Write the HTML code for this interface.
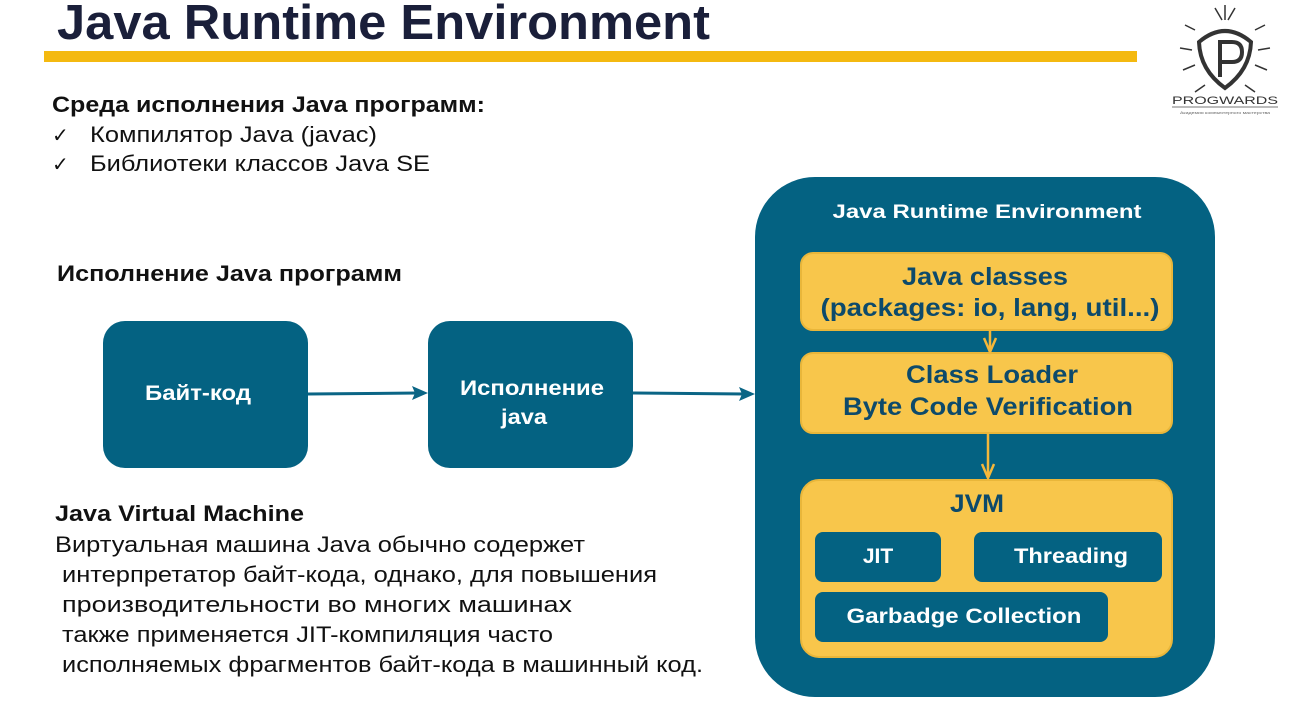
<!DOCTYPE html>
<html><head><meta charset="utf-8"><style>
html,body{margin:0;padding:0;background:#fff;}
svg{display:block;}
text{font-family:"Liberation Sans","DejaVu Sans",sans-serif;}
</style></head><body>
<svg width="1300" height="715" viewBox="0 0 1300 715" xmlns="http://www.w3.org/2000/svg">
<rect width="1300" height="715" fill="#fff"/>
<!-- Title -->
<text x="57" y="39" font-size="49" font-weight="bold" fill="#1a1f3a" textLength="653" lengthAdjust="spacingAndGlyphs">Java Runtime Environment</text>
<rect x="44" y="51" width="1093" height="11" fill="#f4b910"/>

<!-- Logo -->
<g stroke="#333" fill="none" stroke-width="2">
<path d="M1199 42 Q1225 20 1251 42 Q1250 70 1225 88 Q1200 70 1199 42 Z" stroke-width="4"/>
<path d="M1220 77 V42 H1232 Q1242 42 1242 52 Q1242 62 1232 62 H1220" stroke-width="4"/>
<path d="M1225 5 V20 M1215 8 L1222 20 M1235 8 L1228 20 M1195 30 L1185 25 M1255 30 L1265 25 M1192 50 L1180 48 M1258 50 L1270 48 M1195 65 L1183 70 M1255 65 L1267 70 M1205 85 L1195 92 M1245 85 L1255 92" stroke-width="1.5"/>
</g>
<text x="1172" y="104" font-size="11" fill="#333" textLength="106" lengthAdjust="spacingAndGlyphs">PROGWARDS</text>
<line x1="1172" y1="107" x2="1278" y2="107" stroke="#777" stroke-width="1"/>
<text x="1180" y="114" font-size="4" fill="#666" textLength="90" lengthAdjust="spacingAndGlyphs">Академия компьютерного мастерства</text>

<!-- Top text -->
<text x="52" y="112" font-size="22" font-weight="bold" fill="#111" textLength="433" lengthAdjust="spacingAndGlyphs">Среда исполнения Java программ:</text>
<text x="52" y="142" font-size="20" fill="#111">✓</text>
<text x="90" y="142" font-size="22" fill="#111" textLength="287" lengthAdjust="spacingAndGlyphs">Компилятор Java (javac)</text>
<text x="52" y="171" font-size="20" fill="#111">✓</text>
<text x="90" y="171" font-size="22" fill="#111" textLength="340" lengthAdjust="spacingAndGlyphs">Библиотеки классов Java SE</text>

<text x="57" y="281" font-size="22" font-weight="bold" fill="#111" textLength="345" lengthAdjust="spacingAndGlyphs">Исполнение Java программ</text>

<!-- Left boxes -->
<rect x="103" y="321" width="205" height="147" rx="22" fill="#046282"/>
<text x="198" y="400" font-size="21" font-weight="bold" fill="#fff" text-anchor="middle" textLength="106" lengthAdjust="spacingAndGlyphs">Байт-код</text>
<rect x="428" y="321" width="205" height="147" rx="22" fill="#046282"/>
<text x="532" y="395" font-size="21" font-weight="bold" fill="#fff" text-anchor="middle" textLength="144" lengthAdjust="spacingAndGlyphs">Исполнение</text>
<text x="524" y="424" font-size="21" font-weight="bold" fill="#fff" text-anchor="middle" textLength="46" lengthAdjust="spacingAndGlyphs">java</text>

<g stroke="#0a6585" stroke-width="3" fill="none">
<line x1="308" y1="394" x2="418" y2="393"/>
<line x1="633" y1="393" x2="745" y2="394"/>
</g>
<path d="M428 393 L412 386 L415 393 L412 400 Z" fill="#0a6585"/>
<path d="M755 394 L739 387 L742 394 L739 401 Z" fill="#0a6585"/>

<!-- JVM text -->
<text x="55" y="521" font-size="22" font-weight="bold" fill="#111" textLength="249" lengthAdjust="spacingAndGlyphs">Java Virtual Machine</text>
<g font-size="22" fill="#111">
<text x="55" y="552" textLength="530" lengthAdjust="spacingAndGlyphs">Виртуальная машина Java обычно содержет</text>
<text x="62" y="582" textLength="595" lengthAdjust="spacingAndGlyphs">интерпретатор байт-кода, однако, для повышения</text>
<text x="62" y="612" textLength="510" lengthAdjust="spacingAndGlyphs">производительности во многих машинах</text>
<text x="62" y="642" textLength="491" lengthAdjust="spacingAndGlyphs">также применяется JIT-компиляция часто</text>
<text x="62" y="672" textLength="641" lengthAdjust="spacingAndGlyphs">исполняемых фрагментов байт-кода в машинный код.</text>
</g>

<!-- JRE container -->
<rect x="755" y="177" width="460" height="520" rx="60" fill="#046282"/>
<text x="987" y="218" font-size="19" font-weight="bold" fill="#fff" text-anchor="middle" textLength="309" lengthAdjust="spacingAndGlyphs">Java Runtime Environment</text>

<rect x="801" y="253" width="371" height="77" rx="12" fill="#f8c64b" stroke="#e9b63a" stroke-width="2"/>
<text x="985" y="285" font-size="25" font-weight="bold" fill="#0d4a6b" text-anchor="middle" textLength="166" lengthAdjust="spacingAndGlyphs">Java classes</text>
<text x="990" y="316" font-size="25" font-weight="bold" fill="#0d4a6b" text-anchor="middle" textLength="339" lengthAdjust="spacingAndGlyphs">(packages: io, lang, util...)</text>

<rect x="801" y="353" width="371" height="80" rx="12" fill="#f8c64b" stroke="#e9b63a" stroke-width="2"/>
<text x="992" y="383" font-size="25" font-weight="bold" fill="#0d4a6b" text-anchor="middle" textLength="172" lengthAdjust="spacingAndGlyphs">Class Loader</text>
<text x="988" y="415" font-size="25" font-weight="bold" fill="#0d4a6b" text-anchor="middle" textLength="290" lengthAdjust="spacingAndGlyphs">Byte Code Verification</text>

<rect x="801" y="480" width="371" height="177" rx="18" fill="#f8c64b" stroke="#e9b63a" stroke-width="2"/>
<text x="977" y="512" font-size="25" font-weight="bold" fill="#0d4a6b" text-anchor="middle" textLength="54" lengthAdjust="spacingAndGlyphs">JVM</text>

<rect x="815" y="532" width="126" height="50" rx="8" fill="#046282"/>
<text x="878" y="563" font-size="21" font-weight="bold" fill="#fff" text-anchor="middle">JIT</text>
<rect x="974" y="532" width="188" height="50" rx="8" fill="#046282"/>
<text x="1071" y="563" font-size="21" font-weight="bold" fill="#fff" text-anchor="middle" textLength="114" lengthAdjust="spacingAndGlyphs">Threading</text>
<rect x="815" y="592" width="293" height="50" rx="8" fill="#046282"/>
<text x="964" y="623" font-size="21" font-weight="bold" fill="#fff" text-anchor="middle" textLength="235" lengthAdjust="spacingAndGlyphs">Garbadge Collection</text>

<!-- yellow arrows -->
<g stroke="#f4b73a" stroke-width="2.5" fill="none">
<line x1="990" y1="330" x2="990" y2="352"/>
<path d="M984 338 L990 352 L996 338"/>
<line x1="988" y1="433" x2="988" y2="478"/>
<path d="M982 464 L988 478 L994 464"/>
</g>
</svg>
</body></html>
